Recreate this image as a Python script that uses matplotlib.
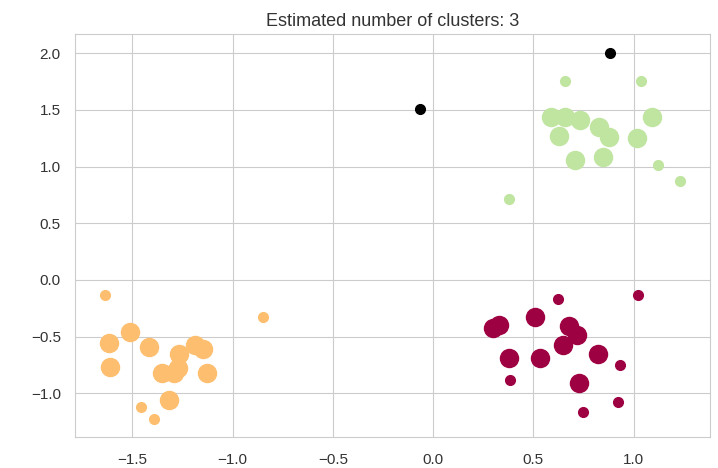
import matplotlib
matplotlib.use('Agg')
import matplotlib.pyplot as plt
import seaborn as sns
import numpy as np

sns.set_style('whitegrid')
plt.rcParams['font.family'] = ['Liberation Sans', 'DejaVu Sans']

# cluster 0 (maroon): core points, then border points
c0_core_x = [0.298, 0.328, 0.510, 0.679, 0.716, 0.649, 0.377, 0.535, 0.820, 0.725]
c0_core_y = [-0.428, -0.399, -0.331, -0.407, -0.487, -0.575, -0.687, -0.687, -0.654, -0.913]
c0_edge_x = [0.621, 1.019, 0.931, 0.384, 0.924, 0.745]
c0_edge_y = [-0.169, -0.134, -0.754, -0.884, -1.080, -1.163]

# cluster 1 (orange)
c1_core_x = [-1.513, -1.618, -1.609, -1.419, -1.266, -1.187, -1.148, -1.352, -1.294, -1.270, -1.129, -1.316]
c1_core_y = [-0.458, -0.560, -0.772, -0.590, -0.654, -0.575, -0.610, -0.819, -0.819, -0.780, -0.819, -1.060]
c1_edge_x = [-1.638, -0.847, -1.457, -1.390]
c1_edge_y = [-0.130, -0.331, -1.124, -1.227]

# cluster 2 (green)
c2_core_x = [0.588, 0.659, 0.732, 0.828, 0.878, 1.090, 0.629, 1.016, 0.707, 0.848]
c2_core_y = [1.438, 1.433, 1.415, 1.350, 1.262, 1.438, 1.268, 1.248, 1.056, 1.086]
c2_edge_x = [0.659, 1.037, 1.120, 1.233, 0.377]
c2_edge_y = [1.753, 1.753, 1.018, 0.871, 0.710]

# noise
noise_x = [-0.067, 0.883]
noise_y = [1.510, 2.000]

clusters = [(c0_core_x, c0_core_y, c0_edge_x, c0_edge_y),
            (c1_core_x, c1_core_y, c1_edge_x, c1_edge_y),
            (c2_core_x, c2_core_y, c2_edge_x, c2_edge_y)]

colors = plt.cm.Spectral(np.linspace(0, 1, 4))

fig, ax = plt.subplots(figsize=(7.18, 4.68), dpi=100)
for (cx, cy, ex, ey), col in zip(clusters, colors):
  ax.plot(cx, cy, 'o', markerfacecolor=col, markeredgecolor=col, markersize=13)
  ax.plot(ex, ey, 'o', markerfacecolor=col, markeredgecolor=col, markersize=7)
ax.plot(noise_x, noise_y, 'o', markerfacecolor='k', markeredgecolor='k', markersize=7)

ax.set_xlim(-1.784, 1.381)
ax.set_ylim(-1.386, 2.168)
ax.set_xticks([-1.5, -1.0, -0.5, 0.0, 0.5, 1.0])
ax.set_yticks([-1.0, -0.5, 0.0, 0.5, 1.0, 1.5, 2.0])
ax.tick_params(labelsize=11, colors='#333333')
ax.tick_params(axis='x', pad=8)
ax.tick_params(axis='y', pad=7)
ax.set_title('Estimated number of clusters: 3', fontsize=13, color='#333333', pad=6)
plt.subplots_adjust(left=0.105, right=0.989, top=0.927, bottom=0.066)
plt.savefig('out.png')
